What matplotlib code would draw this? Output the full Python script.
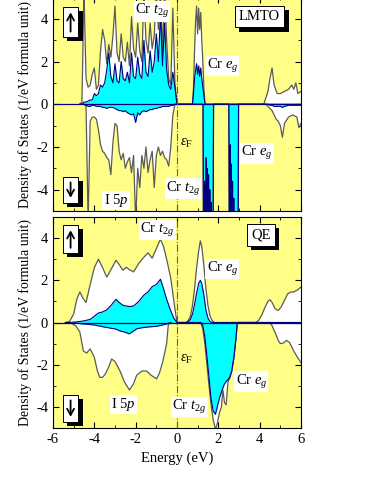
import numpy as np
import matplotlib
matplotlib.use('Agg')
import matplotlib.pyplot as plt
import matplotlib.patheffects as pe
from matplotlib.patches import Rectangle
from matplotlib.ticker import MultipleLocator

plt.rcParams['font.family'] = ['Liberation Serif', 'DejaVu Serif']
plt.rcParams['mathtext.fontset'] = 'custom'
plt.rcParams['mathtext.rm'] = 'Liberation Serif'
plt.rcParams['mathtext.it'] = 'Liberation Serif:italic'
plt.rcParams['axes.unicode_minus'] = False

# ---- LMTO (top panel) ----
# valence band grid, -4.7 .. 0.0 eV
lmto_e_vb = [-4.7, -4.6, -4.5, -4.4, -4.3, -4.2, -4.1, -4.0, -3.9, -3.8,
             -3.7, -3.6, -3.5, -3.4, -3.3, -3.2, -3.1, -3.0, -2.9, -2.8,
             -2.7, -2.6, -2.5, -2.4, -2.3, -2.2, -2.1, -2.0, -1.9, -1.8,
             -1.7, -1.6, -1.5, -1.4, -1.3, -1.2, -1.1, -1.0, -0.9, -0.8,
             -0.7, -0.6, -0.5, -0.4, -0.3, -0.2, -0.1, 0.0]
lmto_up_tot_vb = [0, 0.1, 5.3, 1.2, 0.8, 0.9, 1.4, 1.7, 0.7, 0.9,
                  2.5, 3.5, 3.0, 1.9, 2.8, 2.2, 3.2, 4.6, 2.4, 2.0,
                  3.3, 2.2, 2.0, 2.9, 1.8, 4.1, 2.6, 2.2, 3.8, 2.5,
                  2.0, 5.3, 3.0, 2.4, 3.8, 2.6, 3.2, 5.3, 3.5, 5.3,
                  2.5, 5.3, 3.0, 1.2, 0.9, 4.5, 1.0, 0]
lmto_up_cr_vb = [0, 0, 0.1, 0.1, 0.15, 0.2, 0.2, 0.5, 0.4, 0.5,
                 0.9, 0.8, 1.0, 1.6, 2.4, 1.3, 1.0, 1.9, 1.1, 1.0,
                 2.0, 1.2, 1.1, 1.5, 1.0, 2.4, 1.3, 1.2, 2.2, 1.4,
                 1.2, 3.0, 1.5, 1.3, 2.5, 1.5, 2.0, 3.3, 2.0, 4.2,
                 1.8, 3.8, 1.6, 0.9, 0.7, 1.5, 0.8, 0]
lmto_dn_tot_vb = [0, 0, 0, -0.1, -5.5, -0.8, -0.6, -0.6, -0.7, -1.2,
                  -1.9, -2.2, -2.3, -2.5, -2.6, -3.3, -1.8, -0.9, -1.0, -2.2,
                  -2.6, -2.3, -3.0, -2.7, -2.5, -3.2, -2.4, -5.5, -3.0, -3.9,
                  -2.4, -3.0, -2.0, -3.2, -2.6, -2.2, -3.9, -2.4, -2.0, -2.4,
                  -2.2, -2.5, -2.6, -2.9, -2.0, -0.5, 0, 0]
lmto_dn_cr_vb = [0, 0, 0, -0.05, -0.1, -0.1, -0.05, -0.05, -0.1, -0.1,
                 -0.1, -0.15, -0.15, -0.2, -0.15, -0.15, -0.15, -0.2, -0.25, -0.3,
                 -0.3, -0.35, -0.3, -0.4, -0.45, -0.5, -0.45, -0.85, -0.4, -0.5,
                 -0.35, -0.3, -0.35, -0.3, -0.25, -0.25, -0.2, -0.2, -0.15, -0.15,
                 -0.1, -0.1, -0.1, -0.1, -0.05, -0.05, 0, 0]

# conduction band, spin up
lmto_e_cb_up = [0.0, 0.75, 0.8, 0.85, 0.9, 0.95, 1.0, 1.05, 1.1, 1.15,
                1.2, 1.25, 1.3, 1.35, 1.4, 4.2, 4.3, 4.4, 4.5, 4.6,
                4.7, 4.85, 5.0, 5.2, 5.4, 5.55, 5.65, 5.75, 5.85, 6.0]
lmto_up_tot_cb = [0, 0, 0.8, 2.5, 3.9, 4.6, 3.3, 4.5, 3.5, 4.3,
                  3.0, 2.0, 0.8, 0.1, 0, 0, 0.3, 0.6, 1.2, 1.7,
                  0.9, 0.5, 0.5, 0.6, 0.7, 0.9, 0.7, 1.0, 0.5, 0.6]
lmto_up_cr_cb = [0, 0, 0.5, 1.2, 1.6, 1.9, 1.4, 1.8, 1.3, 1.7,
                 1.2, 0.8, 0.4, 0.05, 0, 0, 0, 0, 0, 0,
                 0, 0, 0, 0, 0, 0, 0, 0, 0, 0]

# conduction band, spin down
lmto_e_cb_dn = [0.0, 1.26, 1.28, 1.33, 1.34, 1.35, 1.40, 1.41, 1.42, 1.46,
                1.47, 1.48, 1.52, 1.53, 1.54, 1.58, 1.59, 1.60, 1.64, 1.65,
                1.66, 1.75, 1.77, 2.51, 2.53, 2.57, 2.58, 2.59, 2.62, 2.63,
                2.64, 2.68, 2.69, 2.70, 2.74, 2.75, 2.76, 2.96, 2.98, 4.3,
                4.4, 4.5, 4.6, 4.7, 4.8, 4.9, 5.0, 5.1, 5.2, 5.4,
                5.6, 5.8, 5.9, 6.0]
lmto_dn_tot_cb = [0, 0, -6, -6, -6, -6, -6, -6, -6, -6,
                  -6, -6, -6, -6, -6, -6, -6, -6, -6, -6,
                  -6, -6, 0, 0, -6, -6, -6, -6, -6, -6,
                  -6, -6, -6, -6, -6, -6, -6, -6, 0, 0,
                  -0.1, -0.2, -0.3, -0.5, -0.7, -0.8, -1.0, -1.55, -0.9, -0.6,
                  -0.5, -0.6, -1.1, -0.9]
lmto_dn_cr_cb = [0, 0, -6, -6, -3.6, -6, -6, -2.5, -6, -6,
                 -3.0, -6, -6, -3.3, -6, -6, -4.0, -6, -6, -4.6,
                 -6, -6, 0, 0, -6, -6, -1.9, -6, -6, -2.8,
                 -6, -6, -3.6, -6, -6, -4.4, -6, -6, 0, 0,
                 0, -0.05, -0.05, -0.1, -0.1, -0.1, -0.1, -0.15, -0.1, -0.05,
                 -0.05, -0.05, -0.05, -0.05]

# ---- QE (bottom panel) ----
qe_e_vb_up = [-5.4, -5.2, -5.0, -4.85, -4.7, -4.55, -4.4, -4.2, -4.0, -3.8,
              -3.6, -3.4, -3.2, -2.95, -2.8, -2.62, -2.45, -2.3, -2.1, -1.85,
              -1.6, -1.4, -1.2, -1.0, -0.8, -0.65, -0.5, -0.3, -0.15, 0.0]
qe_up_tot_vb = [0, 0.05, 0.4, 1.1, 1.45, 1.15, 0.95, 1.8, 2.6, 3.0,
                2.6, 2.15, 2.5, 2.95, 2.75, 2.48, 2.62, 2.5, 2.4, 2.8,
                3.1, 3.3, 3.05, 3.5, 3.95, 3.6, 3.0, 2.1, 1.0, 0]
qe_up_cr_vb = [0, 0, 0.02, 0.03, 0.05, 0.07, 0.1, 0.15, 0.3, 0.45,
               0.5, 0.6, 0.8, 1.1, 0.95, 0.82, 0.78, 0.76, 0.78, 1.0,
               1.3, 1.45, 1.7, 1.8, 2.05, 1.6, 1.1, 0.55, 0.2, 0]
qe_e_vb_dn = [-5.3, -5.1, -4.9, -4.7, -4.53, -4.37, -4.2, -4.0, -3.85, -3.73,
              -3.6, -3.48, -3.3, -3.16, -3.0, -2.76, -2.55, -2.3, -2.1, -1.95,
              -1.7, -1.47, -1.25, -0.99, -0.85, -0.7, -0.5, -0.42, -0.3]
qe_dn_tot_vb = [0, -0.05, -0.15, -0.45, -1.35, -1.45, -1.25, -1.65, -2.3, -2.6,
                -2.6, -2.46, -2.1, -1.73, -1.85, -2.29, -2.8, -3.2, -2.9, -2.5,
                -2.3, -2.3, -2.5, -2.67, -2.4, -1.9, -1.0, -0.1, 0]
qe_dn_cr_vb = [0, -0.02, -0.03, -0.05, -0.07, -0.08, -0.1, -0.12, -0.15, -0.17,
               -0.2, -0.22, -0.25, -0.28, -0.3, -0.4, -0.45, -0.54, -0.4, -0.3,
               -0.25, -0.22, -0.2, -0.18, -0.15, -0.12, -0.07, -0.03, 0]

qe_e_cb_up = [0.0, 0.45, 0.55, 0.65, 0.75, 0.85, 0.95, 1.05, 1.13, 1.2,
              1.3, 1.4, 1.5, 1.6, 1.7, 1.8, 3.8, 3.95, 4.1, 4.25,
              4.4, 4.5, 4.6, 4.75, 4.9, 5.05, 5.2, 5.35, 5.5, 5.65,
              5.8, 6.0]
qe_up_tot_cb = [0, 0, 0.1, 0.3, 0.8, 1.6, 2.6, 3.4, 3.87, 3.6,
                2.7, 1.6, 0.8, 0.3, 0.1, 0, 0, 0.1, 0.35, 0.7,
                1.0, 1.08, 0.95, 0.65, 0.57, 0.75, 1.05, 1.35, 1.44, 1.45,
                1.52, 1.68]
qe_up_cr_cb = [0, 0, 0.05, 0.15, 0.4, 0.85, 1.4, 1.85, 2.0, 1.85,
               1.3, 0.6, 0.2, 0.05, 0, 0, 0, 0, 0, 0,
               0, 0, 0, 0, 0, 0, 0, 0, 0, 0,
               0, 0]
qe_e_cb_dn = [0.0, 1.15, 1.25, 1.35, 1.45, 1.55, 1.65, 1.75, 1.86, 1.95,
              2.05, 2.15, 2.22, 2.3, 2.38, 2.47, 2.55, 2.65, 2.75, 2.85,
              2.92, 4.5, 4.6, 4.75, 4.9, 5.0, 5.15, 5.3, 5.45, 5.65,
              5.8, 6.0]
qe_dn_tot_cb = [0, 0, -0.3, -1.0, -2.0, -3.0, -3.9, -4.6, -5.06, -4.8,
                -4.3, -4.0, -3.2, -3.8, -3.9, -2.8, -2.65, -2.3, -1.7, -0.8,
                0, 0, -0.15, -0.48, -0.85, -1.0, -0.97, -0.85, -0.95, -1.35,
                -1.6, -1.9]
qe_dn_cr_cb = [0, 0, -0.15, -0.7, -1.6, -2.6, -3.6, -4.2, -4.35, -4.0,
               -3.6, -3.3, -3.1, -2.9, -2.8, -2.7, -2.6, -2.3, -1.7, -0.8,
               0, 0, 0, 0, 0, 0, 0, 0, 0, 0,
               0, 0]

yellow = '#FFFF88'
gray = '#5a5a5a'
navy = '#000080'


def dos(ax, e, tot, cr):
    ax.fill_between(e, tot, 0, color='white', lw=0)
    ax.plot(e, tot, color=gray, lw=0.9)
    ax.fill_between(e, cr, 0, color='#00FFFF', lw=0)
    ax.plot(e, cr, color=navy, lw=0.8)


def label(ax, x, y, s):
    ax.text(x, y, s, ha='center', va='center', fontsize=10.5, zorder=5,
            bbox=dict(facecolor='white', edgecolor='none', pad=0.8))


def name_box(ax, x, y, s):
    t = ax.text(x, y, s, ha='center', va='center', fontsize=10.5, zorder=6,
                bbox=dict(facecolor='white', edgecolor='black', lw=0.7, pad=3))
    t.get_bbox_patch().set_path_effects(
        [pe.withSimplePatchShadow(offset=(3, -3), shadow_rgbFace='black', alpha=1.0)])


def spin_box(ax, y0, y1, up):
    # white box with black drop shadow, in axes fraction
    x0, w = 0.04, 0.062
    ax.add_patch(Rectangle((x0 + 0.018, y0 - 0.02), w, y1 - y0, transform=ax.transAxes,
                           facecolor='black', edgecolor='none', zorder=6))
    ax.add_patch(Rectangle((x0, y0), w, y1 - y0, transform=ax.transAxes,
                           facecolor='white', edgecolor='black', lw=0.7, zorder=7))
    xm = x0 + w / 2
    lo, hi = y0 + 0.025, y1 - 0.025
    a, b = (lo, hi) if up else (hi, lo)
    ax.annotate('', xy=(xm, b), xytext=(xm, a), xycoords='axes fraction',
                arrowprops=dict(arrowstyle='->,head_length=0.45,head_width=0.25',
                                lw=1.3, color='black', shrinkA=0, shrinkB=0),
                zorder=8)


fig = plt.figure(figsize=(3.82, 4.94), dpi=100)
ax1 = fig.add_axes([0.1387, 0.5729, 0.6492, 0.4322])
ax2 = fig.add_axes([0.1387, 0.1336, 0.6492, 0.4271])

dos(ax1, lmto_e_vb, lmto_up_tot_vb, lmto_up_cr_vb)
dos(ax1, lmto_e_vb, lmto_dn_tot_vb, lmto_dn_cr_vb)
dos(ax1, lmto_e_cb_up, lmto_up_tot_cb, lmto_up_cr_cb)
dos(ax1, lmto_e_cb_dn, lmto_dn_tot_cb, lmto_dn_cr_cb)

dos(ax2, qe_e_vb_up, qe_up_tot_vb, qe_up_cr_vb)
dos(ax2, qe_e_vb_dn, qe_dn_tot_vb, qe_dn_cr_vb)
dos(ax2, qe_e_cb_up, qe_up_tot_cb, qe_up_cr_cb)
dos(ax2, qe_e_cb_dn, qe_dn_tot_cb, qe_dn_cr_cb)

for ax in (ax1, ax2):
    ax.set_facecolor(yellow)
    ax.set_xlim(-6, 6)
    ax.set_ylim(-5, 5)
    ax.axhline(0, color=navy, lw=0.9, zorder=3)
    ax.axvline(0, color='#6b6b00', lw=0.8, ls='-.', zorder=3)
    ax.xaxis.set_major_locator(MultipleLocator(2))
    ax.xaxis.set_minor_locator(MultipleLocator(1))
    ax.yaxis.set_major_locator(MultipleLocator(2))
    ax.yaxis.set_minor_locator(MultipleLocator(1))
    ax.tick_params(which='both', direction='in', top=True, right=True, labelsize=10.5)
    ax.tick_params(which='major', length=4)
    ax.tick_params(which='minor', length=2.5)
    ax.set_ylabel('Density of States (1/eV formula unit)', fontsize=10, labelpad=3)
    ax.text(0.45, -1.85 if ax is ax1 else -1.75, r'$\varepsilon_{\rm F}$',
            ha='center', va='center', fontsize=10.5, zorder=5)

ax1.tick_params(labelbottom=False)
ax2.set_xlabel('Energy (eV)', fontsize=10.5)

# labels, top panel
label(ax1, -1.2, 4.35, r'Cr $t_{2g}$')
label(ax1, 2.2, 1.8, r'Cr $e_g$')
label(ax1, 3.85, -2.3, r'Cr $e_g$')
label(ax1, 0.3, -3.95, r'Cr $t_{2g}$')
label(ax1, -2.95, -4.5, r'I 5$p$')
name_box(ax1, 4.0, 4.1, 'LMTO')
spin_box(ax1, 0.815, 0.955, True)
spin_box(ax1, 0.037, 0.159, False)

# labels, bottom panel
label(ax2, -0.95, 4.4, r'Cr $t_{2g}$')
label(ax2, 2.2, 2.55, r'Cr $e_g$')
label(ax2, 3.6, -2.8, r'Cr $e_g$')
label(ax2, 0.6, -4.0, r'Cr $t_{2g}$')
label(ax2, -2.6, -3.9, r'I 5$p$')
name_box(ax2, 4.05, 4.15, 'QE')
spin_box(ax2, 0.829, 0.962, True)
spin_box(ax2, 0.028, 0.156, False)

fig.savefig('out.png', dpi=100)
